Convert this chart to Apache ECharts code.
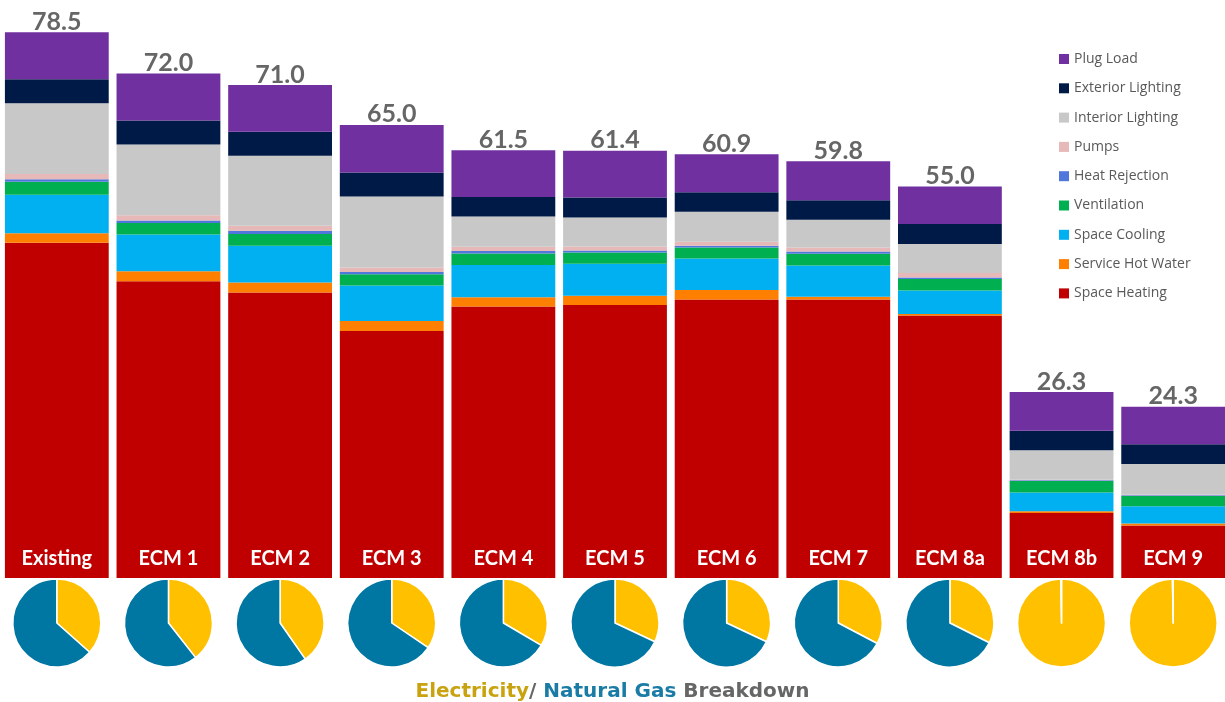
<!DOCTYPE html>
<html><head><meta charset="utf-8">
<script src="https://cdn.jsdelivr.net/npm/echarts@6/dist/echarts.min.js"></script>
<style>html,body{margin:0;padding:0;background:#fff}#c{width:1225px;height:702px}</style>
</head><body><div id="c"></div>
<script>
const categories = ['Existing','ECM 1','ECM 2','ECM 3','ECM 4','ECM 5','ECM 6','ECM 7','ECM 8a','ECM 8b','ECM 9'];
const totals = ['78.5','72.0','71.0','65.0','61.5','61.4','60.9','59.8','55.0','26.3','24.3'];

const spaceHeating     = [47.9, 42.4, 40.8, 35.3, 38.8, 39.0, 39.8, 39.8, 37.5, 9.3, 7.5];
const serviceHotWater  = [1.34, 1.43, 1.43, 1.43, 1.29, 1.33, 1.33, 0.39, 0.2, 0.24, 0.29];
const spaceCooling     = [5.51, 5.24, 5.23, 5.04, 4.61, 4.57, 4.53, 4.47, 3.37, 2.67, 2.47];
const ventilation      = [1.86, 1.66, 1.67, 1.63, 1.67, 1.61, 1.57, 1.67, 1.66, 1.66, 1.47];
const heatRejection    = [0.34, 0.34, 0.48, 0.33, 0.33, 0.29, 0.23, 0.33, 0.2, 0.1, 0.1];
const pumps            = [0.76, 0.76, 0.71, 0.62, 0.62, 0.57, 0.57, 0.57, 0.63, 0.07, 0.07];
const interiorLighting = [10.1, 10.1, 10.0, 10.14, 4.34, 4.14, 4.29, 3.96, 4.14, 4.2, 4.39];
const exteriorLighting = [3.43, 3.43, 3.43, 3.43, 2.76, 2.86, 2.77, 2.76, 2.86, 2.8, 2.81];
const plugLoad         = [6.71, 6.71, 6.67, 6.81, 6.67, 6.67, 5.43, 5.57, 5.37, 5.53, 5.37];

// Pie charts: electricity share (%) per case
const electricityShare = [36.6, 39.4, 40.3, 34.5, 33.5, 32.0, 32.0, 32.7, 32.4, 100, 100];
const gasShare = electricityShare.map(v => 100 - v);

const seriesDefs = [
  {name:'Space Heating', data:spaceHeating, color:'#C00000'},
  {name:'Service Hot Water', data:serviceHotWater, color:'#FF8000'},
  {name:'Space Cooling', data:spaceCooling, color:'#00B0F0'},
  {name:'Ventilation', data:ventilation, color:'#00B050'},
  {name:'Heat Rejection', data:heatRejection, color:'#5078DC'},
  {name:'Pumps', data:pumps, color:'#E6B8B7'},
  {name:'Interior Lighting', data:interiorLighting, color:'#C8C8C8'},
  {name:'Exterior Lighting', data:exteriorLighting, color:'#001A47'},
  {name:'Plug Load', data:plugLoad, color:'#7030A0'}
];

const chart = echarts.init(document.getElementById('c'));
const barSeries = seriesDefs.map((d, i) => ({
  type:'bar', name:d.name, stack:'total', data:d.data, barWidth:'93%',
  itemStyle:{color:d.color},
  label: i === seriesDefs.length - 1 ? {
    show:true, position:'top', distance:-2,
    formatter: p => totals[p.dataIndex],
    fontFamily:'Lato', fontWeight:'bold', fontSize:25, color:'#666666'
  } : {show:false}
}));

const baseOption = {
  animation:false,
  grid:{left:1, width:1228, top:18, bottom:124, outerBoundsMode:'none', containLabel:false},
  xAxis:{type:'category', data:categories, z:10, axisLine:{show:false}, axisTick:{show:false},
    axisLabel:{inside:true, margin:9, color:'#ffffff', fontFamily:'Lato', fontWeight:'bold', fontSize:20}},
  yAxis:{type:'value', min:0, max:80, show:false},
  legend:{orient:'vertical', left:1054, top:47, itemWidth:10, itemHeight:10, itemGap:15.3,
    icon:'rect', data:seriesDefs.map(d => d.name).reverse(),
    textStyle:{fontFamily:'Open Sans', fontSize:14, color:'#595959'}},
  title:{
    text:'{e|Electricity}{g|/ }{n|Natural Gas}{g| Breakdown}',
    left:'center', top:677,
    textStyle:{rich:{
      e:{fontFamily:'DejaVu Sans', fontWeight:'bold', fontSize:20, color:'#C9A20F'},
      n:{fontFamily:'DejaVu Sans', fontWeight:'bold', fontSize:20, color:'#1A7BA5'},
      g:{fontFamily:'DejaVu Sans', fontWeight:'bold', fontSize:20, color:'#666666'}
    }}
  },
  series: barSeries
};
chart.setOption(baseOption);

const pieSeries = categories.map((c, i) => ({
  type:'pie', silent:true, radius:44, startAngle:90, clockwise:true, minAngle:1,
  center:[chart.convertToPixel({xAxisIndex:0}, c), 623],
  label:{show:false}, labelLine:{show:false},
  itemStyle:{borderColor:'#ffffff', borderWidth:1.5},
  data:[
    {name:'Electricity', value:electricityShare[i], itemStyle:{color:'#FFC000'}},
    {name:'Natural Gas', value:gasShare[i], itemStyle:{color:'#0076A3'}}
  ]
}));
chart.setOption({series: barSeries.concat(pieSeries)});
</script></body></html>
